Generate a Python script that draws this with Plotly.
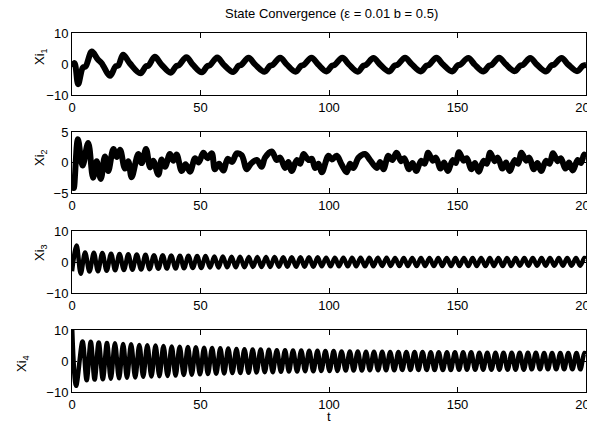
import plotly.graph_objects as go

# the page body adds an 8 px margin, so the figure is drawn 8 px smaller
OFF = 8
W, H = 595 - OFF, 432 - OFF

# ---------------- data (extrema / turning points) ----------------
xi1_t = [0, 1.0, 2.4, 4.2, 5.3, 7.7, 10.0, 11.5,
         14.8, 16.9, 18.0, 19.9, 22.5,
         26.6, 28.7, 29.8, 32.2, 34.8,
         38.4, 40.5, 41.6, 44.5, 47.0,
         50.5, 52.6, 53.7, 56.5, 59.0,
         62.7, 64.8, 65.9, 68.7, 71.3,
         74.9, 77.0, 78.1, 81.0, 83.6,
         87.0, 89.1, 90.2, 93.2, 95.7,
         99.0, 101.1, 102.2, 105.2, 107.8,
         111.2, 113.3, 114.4, 117.3, 119.9,
         123.4, 125.5, 126.6, 129.6, 132.2,
         135.7, 137.8, 138.9, 141.8, 144.4,
         147.9, 150.0, 151.1, 154.2, 156.7,
         160.1, 162.2, 163.3, 166.2, 168.8,
         172.3, 174.4, 175.5, 178.3, 180.9,
         184.4, 186.5, 187.6, 190.5, 193.1,
         196.6, 198.7, 200]
xi1_v = [-1.0, 0.3, -6.5, -1.2, -0.8, 4.0, 1.5, 0.3,
         -3.8, -0.8, -0.5, 3.0, 0.2,
         -3.0, -0.8, -0.5, 2.3, -0.2,
         -2.8, -0.7, -0.4, 2.2, -0.2,
         -2.7, -0.7, -0.4, 2.1, -0.2,
         -2.6, -0.6, -0.3, 2.0, -0.2,
         -2.5, -0.6, -0.3, 2.0, -0.2,
         -2.5, -0.6, -0.3, 2.0, -0.1,
         -2.4, -0.6, -0.3, 2.0, -0.2,
         -2.5, -0.6, -0.3, 1.9, -0.2,
         -2.4, -0.5, -0.3, 2.0, -0.1,
         -2.4, -0.6, -0.3, 2.0, -0.2,
         -2.4, -0.5, -0.2, 1.9, -0.2,
         -2.4, -0.6, -0.3, 2.0, -0.1,
         -2.3, -0.5, -0.3, 1.9, -0.2,
         -2.4, -0.5, -0.2, 1.9, -0.2,
         -2.3, -0.6, -0.3]

xi2_t = [0, 0.7, 2.3, 4.1, 6.3, 8.2, 9.6, 11.2, 12.8, 14.1,
         16.1, 17.4, 18.7, 20.6, 21.9, 23.2, 25.8, 27.1, 28.8, 30.4,
         31.6, 33.6, 34.9, 36.2, 38.1, 39.4, 40.7, 42.7, 44.2, 45.9,
         47.9, 49.3, 51.1, 52.8, 54.4, 55.6, 57.2, 58.9, 60.6, 62.3,
         64.1, 66.0, 68.0, 69.6, 71.9, 73.8, 75.1, 77.7, 79.7, 81.0,
         82.9, 84.2, 85.5, 87.5, 88.8, 90.1, 92.0, 93.3, 94.6, 95.9,
         97.2, 99.8, 101.1, 103.0, 105.0, 106.9, 108.2, 109.5, 111.5, 114.0,
         116.0, 118.6, 119.9, 121.2, 123.1, 124.6, 126.3, 128.1, 129.3, 131.1,
         132.5, 133.9, 135.9, 137.2, 138.6, 140.4, 141.6, 143.4, 144.8, 146.2,
         148.2, 149.3, 150.6, 152.4, 153.6, 155.4, 156.8, 158.2, 160.2, 161.4,
         162.7, 164.5, 165.7, 167.5, 168.9, 170.3, 172.3, 173.6, 174.9, 176.7,
         177.9, 179.7, 181.1, 182.5, 184.5, 185.8, 187.2, 189.0, 190.2, 192.0,
         193.4, 194.8, 196.8, 198.0, 199.3, 200]
xi2_v = [-2.0, -4.2, 3.8, -0.5, 3.2, -2.5, 0.2, -2.7, 1.0, -1.4,
         2.2, 0.9, 2.1, -1.0, 0.2, -2.4, 1.4, -0.1, 2.2, -0.8,
         0.3, -2.0, 0.5, -0.7, 1.4, 0.3, 1.3, -1.4, -0.3, -1.5,
         0.7, 0.0, 1.6, 0.7, 1.5, -1.1, -0.2, -1.3, 0.6, 0.1,
         1.5, 1.2, -1.1, -0.2, 0.4, -0.7, 0.8, 1.8, 0.4, 0.8,
         -0.9, 0.1, -1.4, 0.4, -0.2, 1.4, 0.4, 0.6, -0.9, -0.2,
         -1.6, 1.1, 0.5, 1.1, -0.4, -1.6, -0.2, -0.9, 0.8, 1.4,
         0.4, -0.9, 0.1, -1.1, 1.1, 0.4, 1.6, 0.2, 0.7, -1.1,
         -0.1, -1.4, 0.3, -0.2, 1.6, 0.3, 0.8, -1.0, 0.0, -1.4,
         0.4, -0.1, 1.7, 0.3, 0.7, -1.1, -0.1, -1.5, 0.3, -0.2,
         1.6, 0.2, 0.8, -1.0, 0.0, -1.4, 0.4, -0.2, 1.6, 0.3,
         0.8, -1.1, -0.1, -1.4, 0.3, -0.2, 1.5, 0.2, 0.7, -1.0,
         0.0, -1.3, 0.4, -0.1, 1.3, 0.9]

xi3_t = [0, 1.8, 3.4,
         5.1, 6.8, 8.5, 10.1, 11.8, 13.5, 15.2, 16.8, 18.5, 20.2,
         21.9, 23.5, 25.2, 26.9, 28.6, 30.2, 31.9, 33.6, 35.3, 36.9,
         38.6, 40.3, 42.0, 43.6, 45.3, 47.0, 48.7, 50.3, 52.0, 53.7,
         55.4, 57.0, 58.7, 60.4, 62.1, 63.7, 65.4, 67.1, 68.8, 70.4,
         72.1, 73.8, 75.5, 77.1, 78.8, 80.5, 82.2, 83.8, 85.5, 87.2,
         88.9, 90.5, 92.2, 93.9, 95.6, 97.2, 98.9, 100.6, 102.3, 103.9,
         105.6, 107.3, 109.0, 110.6, 112.3, 114.0, 115.7, 117.3, 119.0, 120.7,
         122.4, 124.0, 125.7, 127.4, 129.1, 130.7, 132.4, 134.1, 135.8, 137.4,
         139.1, 140.8, 142.5, 144.1, 145.8, 147.5, 149.2, 150.8, 152.5, 154.2,
         155.9, 157.5, 159.2, 160.9, 162.6, 164.2, 165.9, 167.6, 169.3, 170.9,
         172.6, 174.3, 176.0, 177.6, 179.3, 181.0, 182.7, 184.3, 186.0, 187.7,
         189.4, 191.0, 192.7, 194.4, 196.1, 197.7, 199.4, 200]
xi3_v = [-3.0, 5.3, -3.8,
         3.1, -3.1, 3.0, -3.0, 2.9, -2.8, 2.7, -2.7, 2.6, -2.6,
         2.5, -2.5, 2.4, -2.4, 2.3, -2.3, 2.2, -2.2, 2.2, -2.1,
         2.1, -2.1, 2.0, -2.0, 2.0, -1.9, 1.9, -1.9, 1.9, -1.8,
         1.8, -1.8, 1.8, -1.7, 1.7, -1.7, 1.7, -1.7, 1.6, -1.6,
         1.6, -1.6, 1.6, -1.6, 1.6, -1.5, 1.5, -1.5, 1.5, -1.5,
         1.5, -1.5, 1.5, -1.5, 1.5, -1.4, 1.4, -1.4, 1.4, -1.4,
         1.4, -1.4, 1.4, -1.4, 1.4, -1.4, 1.4, -1.4, 1.4, -1.3,
         1.4, -1.3, 1.3, -1.3, 1.3, -1.3, 1.3, -1.3, 1.3, -1.3,
         1.3, -1.3, 1.3, -1.3, 1.3, -1.3, 1.3, -1.3, 1.3, -1.3,
         1.3, -1.3, 1.3, -1.3, 1.3, -1.3, 1.3, -1.3, 1.3, -1.3,
         1.3, -1.2, 1.3, -1.2, 1.3, -1.2, 1.3, -1.2, 1.3, -1.2,
         1.3, -1.2, 1.3, -1.2, 1.3, -1.2, 1.3, 1.1]

xi4_t = [0, 1.6,
         4.1, 5.7, 7.3, 8.8, 10.4, 12.0, 13.6, 15.1, 16.7, 18.3,
         19.9, 21.4, 23.0, 24.6, 26.2, 27.7, 29.3, 30.9, 32.5, 34.0,
         35.6, 37.2, 38.8, 40.3, 41.9, 43.5, 45.1, 46.6, 48.2, 49.8,
         51.4, 52.9, 54.5, 56.1, 57.7, 59.2, 60.8, 62.4, 64.0, 65.5,
         67.1, 68.7, 70.3, 71.8, 73.4, 75.0, 76.6, 78.1, 79.7, 81.3,
         82.9, 84.4, 86.0, 87.6, 89.2, 90.7, 92.3, 93.9, 95.5, 97.0,
         98.6, 100.2, 101.8, 103.3, 104.9, 106.5, 108.1, 109.6, 111.2, 112.8,
         114.4, 115.9, 117.5, 119.1, 120.7, 122.2, 123.8, 125.4, 127.0, 128.5,
         130.1, 131.7, 133.3, 134.8, 136.4, 138.0, 139.6, 141.1, 142.7, 144.3,
         145.9, 147.4, 149.0, 150.6, 152.2, 153.7, 155.3, 156.9, 158.5, 160.0,
         161.6, 163.2, 164.8, 166.3, 167.9, 169.5, 171.1, 172.6, 174.2, 175.8,
         177.4, 178.9, 180.5, 182.1, 183.7, 185.2, 186.8, 188.4, 190.0, 191.5,
         193.1, 194.7, 196.3, 197.8, 199.4, 200]
xi4_v = [12.0, -8.0,
         6.3, -6.2, 6.2, -6.0, 6.0, -5.9, 5.8, -5.7, 5.7, -5.6,
         5.5, -5.4, 5.4, -5.3, 5.2, -5.1, 5.1, -5.0, 5.0, -4.9,
         4.8, -4.8, 4.7, -4.7, 4.6, -4.5, 4.5, -4.4, 4.4, -4.3,
         4.3, -4.2, 4.2, -4.1, 4.1, -4.0, 4.0, -3.9, 3.9, -3.9,
         3.8, -3.8, 3.7, -3.7, 3.7, -3.6, 3.6, -3.6, 3.5, -3.5,
         3.5, -3.4, 3.4, -3.4, 3.4, -3.3, 3.3, -3.3, 3.3, -3.2,
         3.2, -3.2, 3.2, -3.2, 3.1, -3.1, 3.1, -3.1, 3.1, -3.1,
         3.0, -3.0, 3.0, -3.0, 3.0, -3.0, 2.9, -3.0, 2.9, -2.9,
         2.9, -2.9, 2.9, -2.9, 2.9, -2.9, 2.8, -2.9, 2.8, -2.9,
         2.8, -2.9, 2.8, -2.8, 2.8, -2.8, 2.8, -2.8, 2.7, -2.8,
         2.7, -2.8, 2.7, -2.8, 2.7, -2.8, 2.7, -2.8, 2.7, -2.8,
         2.7, -2.7, 2.7, -2.7, 2.6, -2.7, 2.6, -2.7, 2.6, -2.7,
         2.6, -2.7, 2.6, -2.7, 2.6, 2.3]

series = [(xi1_t, xi1_v), (xi2_t, xi2_v), (xi3_t, xi3_v), (xi4_t, xi4_v)]
for t, v in series:
    assert len(t) == len(v), (len(t), len(v))

y_ranges = [[-10, 10], [-5, 5], [-10, 10], [-10, 10]]
y_ticks = [[-10, 0, 10], [-5, 0, 5], [-10, 0, 10], [-10, 0, 10]]
x_ticks = [0, 50, 100, 150, 200]
y_titles = ["Xi<sub>1</sub>", "Xi<sub>2</sub>", "Xi<sub>3</sub>", "Xi<sub>4</sub>"]
title_text = "State Convergence (\u03b5 = 0.01 b = 0.5)"
x_title = "t"

# ---------------- layout geometry (screen pixels, converted below) ----------------
x_left, x_right = 72, 586
boxes = [(33, 95), (132, 193), (231, 293), (330, 392)]
widths = [6, 6, 4.5, 4.5]
label_pos = [(40, 57), (40, 158), (40, 253), (22, 364)]


def px(xs):
    return (xs - OFF) / W


def py(ys):
    return 1 - (ys - OFF) / H


FONT = "Liberation Sans, Arial, Helvetica, sans-serif"
fig = go.Figure()
layout = dict(
    width=W, height=H,
    margin=dict(l=0, r=0, t=0, b=0, pad=0, autoexpand=False),
    paper_bgcolor="white", plot_bgcolor="white",
    showlegend=False,
    font=dict(family=FONT, size=13, color="black"),
)
annotations = []
for i, ((t, v), (top, bot)) in enumerate(zip(series, boxes)):
    n = "" if i == 0 else str(i + 1)
    fig.add_trace(go.Scatter(
        x=t, y=v, mode="lines",
        line=dict(color="black", width=widths[i], shape="spline", smoothing=1.0),
        xaxis="x" + n, yaxis="y" + n, hoverinfo="skip"))
    layout["xaxis" + n] = dict(
        domain=[px(x_left), px(x_right)], anchor="y" + n,
        range=[0, 200], tickvals=x_ticks, ticks="inside", ticklen=5,
        tickcolor="black", showline=True, linecolor="black", linewidth=1,
        mirror="ticks", showgrid=False, zeroline=False, automargin=False,
        ticklabeloverflow="allow",
        tickfont=dict(family=FONT, size=13, color="black"))
    layout["yaxis" + n] = dict(
        domain=[py(bot), py(top)], anchor="x" + n,
        range=y_ranges[i], tickvals=y_ticks[i], ticks="inside", ticklen=5,
        tickcolor="black", showline=True, linecolor="black", linewidth=1,
        mirror="ticks", showgrid=False, zeroline=False, automargin=False,
        ticklabeloverflow="allow",
        tickfont=dict(family=FONT, size=13, color="black"))
    lx, ly = label_pos[i]
    annotations.append(dict(
        text=y_titles[i], x=px(lx), y=py(ly), xref="paper", yref="paper",
        xanchor="center", yanchor="middle", textangle=-90, showarrow=False,
        font=dict(family=FONT, size=13, color="black")))

annotations.append(dict(text=title_text, x=px(331), y=py(13),
                        xref="paper", yref="paper", xanchor="center",
                        yanchor="middle", showarrow=False,
                        font=dict(family=FONT, size=13, color="black")))
annotations.append(dict(text=x_title, x=px(329), y=py(416),
                        xref="paper", yref="paper", xanchor="center",
                        yanchor="middle", showarrow=False,
                        font=dict(family=FONT, size=13, color="black")))
layout["annotations"] = annotations
fig.update_layout(**layout)
fig.write_html("out.html")
